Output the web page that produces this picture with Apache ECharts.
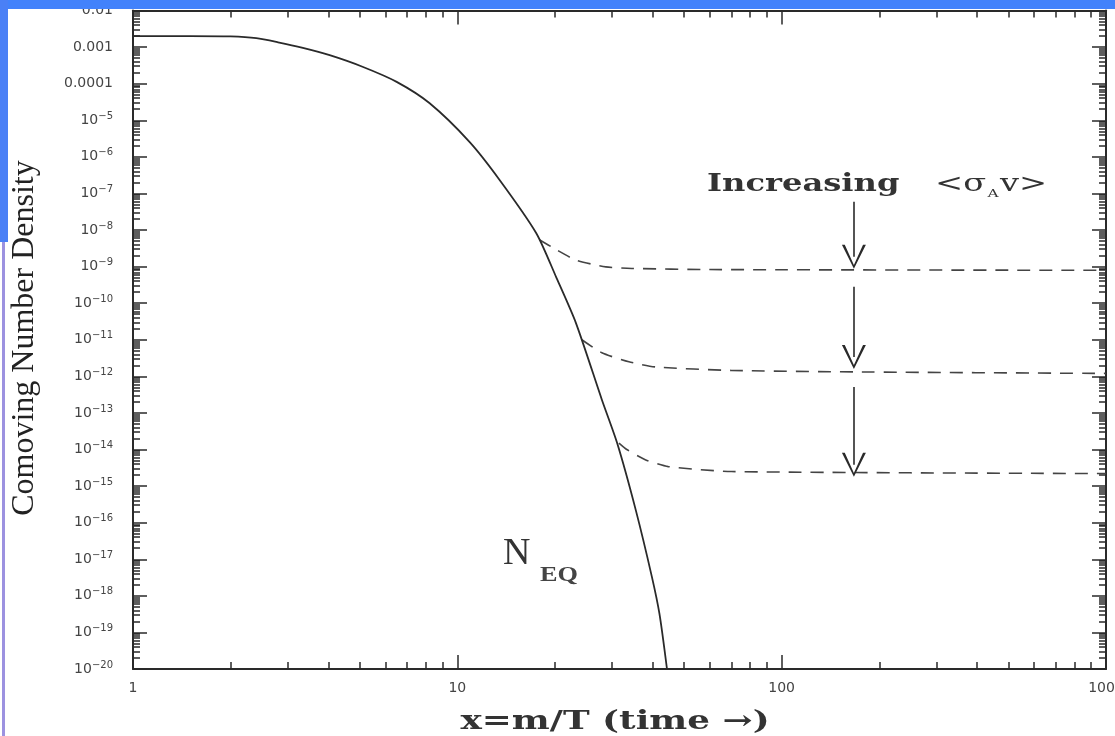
<!DOCTYPE html>
<html>
<head>
<meta charset="utf-8">
<script src="https://cdn.jsdelivr.net/npm/echarts@6/dist/echarts.min.js"></script>
<style>
html, body { margin: 0; padding: 0; background: #fff; }
#chart { width: 1115px; height: 736px; }
</style>
</head>
<body>
<div id="chart"></div>
<script>
// x = m/T, comoving number density
var xDecades = [1, 10, 100, 1000];
var yDecades = [1e-20, 1e-19, 1e-18, 1e-17, 1e-16, 1e-15, 1e-14, 1e-13, 1e-12, 1e-11,
	1e-10, 1e-9, 1e-8, 1e-7, 1e-6, 1e-5, 1e-4, 1e-3, 1e-2];
var minorFactors = [2, 3, 4, 5, 6, 7, 8, 9];

// equilibrium curve N_EQ
var eqX = [1, 1.5, 2.0, 2.4, 2.8, 3.34, 4.04, 5.1, 6.5, 8.2, 10.9, 13.5, 17.5, 20.2, 23.2, 27.9, 31.1, 35.5, 39.8, 42, 44.3];
var eqY = [2.0e-3, 2.0e-3, 1.95e-3, 1.75e-3, 1.35e-3, 9.5e-4, 6.0e-4, 2.9e-4, 1.12e-4, 2.95e-5, 2.57e-6, 2.34e-7,
	8.3e-9, 5.0e-10, 2.9e-11, 2.3e-13, 1.5e-14, 2.2e-16, 3.3e-18, 3.2e-19, 1e-20];

// freeze-out curves, increasing <sigma_A v>
var fo1X = [17.9, 20.2, 23.2, 28.7, 34.5, 60, 1000];
var fo1Y = [5.4e-9, 2.9e-9, 1.5e-9, 9.8e-10, 8.9e-10, 8.3e-10, 7.9e-10];
var fo2X = [24.2, 27.9, 33.8, 41, 70, 170, 1000];
var fo2Y = [1.0e-11, 4.4e-12, 2.5e-12, 1.8e-12, 1.45e-12, 1.32e-12, 1.2e-12];
var fo3X = [31.5, 33.3, 38.1, 44.7, 70, 1000];
var fo3Y = [1.5e-14, 1.0e-14, 5.2e-15, 3.4e-15, 2.5e-15, 2.2e-15];

// arrows
var arrowX = 167;
var arrowFrom = [5.9e-8, 2.8e-10, 5.1e-13];
var arrowTo = [1.86e-9, 3.4e-12, 3.8e-15];

var lg = Math.log10;
function pts(xs, ys) {
	return xs.map(function (x, i) { return [lg(x), lg(ys[i])]; });
}
function minorOf(decades) {
	var out = [];
	decades.slice(0, -1).forEach(function (d) {
		minorFactors.forEach(function (f) { out.push(lg(d * f)); });
	});
	return out;
}

var ink = "#2a2a2a";
var xMin = lg(xDecades[0]), xMax = lg(xDecades[xDecades.length - 1]);
var yMin = lg(yDecades[0]), yMax = lg(yDecades[yDecades.length - 1]);
var xMajorV = xDecades.map(lg), yMajorV = yDecades.map(lg);

function axis(pos, major, vals, minorVals, isX) {
	return {
		type: "value",
		position: pos,
		min: isX ? xMin : yMin,
		max: isX ? xMax : yMax,
		splitLine: { show: false },
		axisLine: { show: major, onZero: false, lineStyle: { color: ink, width: 2 } },
		axisTick: {
			inside: true,
			length: major ? 14 : 7,
			customValues: major ? vals : minorVals,
			lineStyle: { color: ink, width: 1.5 }
		},
		axisLabel: { show: false }
	};
}

var xAxes = [
	axis("bottom", true, xMajorV, null, true),
	axis("bottom", false, null, minorOf(xDecades), true),
	axis("top", true, xMajorV, null, true),
	axis("top", false, null, minorOf(xDecades), true)
];
xAxes[0].axisLabel = {
	show: true,
	customValues: xMajorV,
	margin: 12,
	color: "#444",
	fontFamily: "DejaVu Sans",
	fontSize: 14,
	formatter: function (v) { return String(Math.round(Math.pow(10, v))); }
};

var yAxes = [
	axis("left", true, yMajorV, null, false),
	axis("left", false, null, minorOf(yDecades), false),
	axis("right", true, yMajorV, null, false),
	axis("right", false, null, minorOf(yDecades), false)
];
yAxes[0].axisLabel = {
	show: true,
	customValues: yMajorV,
	margin: 20,
	color: "#444",
	fontFamily: "DejaVu Sans",
	fontSize: 14,
	formatter: function (v) {
		var e = Math.round(v);
		if (e >= -4) return "{b|" + Math.pow(10, e).toFixed(-e) + "}";
		return "{b|10}{s|\u2212" + (-e) + "}";
	},
	rich: {
		b: { fontSize: 14, lineHeight: 18, color: "#444", fontFamily: "DejaVu Sans" },
		s: { fontSize: 10, lineHeight: 10, color: "#444", fontFamily: "DejaVu Sans", verticalAlign: "top" }
	}
};

var dashStyle = { color: "#444", width: 1.6, type: [13, 9] };
function foSeries(xs, ys) {
	return {
		type: "line",
		data: pts(xs, ys),
		showSymbol: false,
		smooth: 0.2,
		lineStyle: dashStyle,
		silent: true,
		z: 3
	};
}

var headPath = "path://M50,0 L100,100 L88,100 L50,16 L12,100 L0,100 Z";

var option = {
	animation: false,
	backgroundColor: "#fff",
	grid: { left: 133, right: 9, top: 10.5, bottom: 67, containLabel: false, outerBoundsMode: "none" },
	xAxis: xAxes,
	yAxis: yAxes,
	series: [
		{
			type: "line",
			data: pts(eqX, eqY),
			showSymbol: false,
			smooth: 0.25,
			lineStyle: { color: ink, width: 1.8 },
			silent: true,
			z: 4
		},
		foSeries(fo1X, fo1Y),
		foSeries(fo2X, fo2Y),
		foSeries(fo3X, fo3Y),
		{
			type: "lines",
			coordinateSystem: "cartesian2d",
			silent: true,
			symbol: ["none", headPath],
			symbolSize: [11, 24],
			lineStyle: { color: ink, width: 1.6, opacity: 1 },
			data: arrowFrom.map(function (y0, i) {
				return { coords: [[lg(arrowX), lg(y0)], [lg(arrowX), lg(arrowTo[i])]] };
			}),
			z: 5
		}
	],
	graphic: [
		{
			type: "text", x: 707, y: 185, scaleX: 1.34,
			style: { text: "Increasing", font: "bold 24px 'DejaVu Serif'", fill: "#333", align: "left", verticalAlign: "middle" }
		},
		{
			type: "text", x: 935, y: 185, scaleX: 1.4,
			style: {
				text: "{n|<\u03c3}{s|A}{n|v>}",
				fill: "#333", align: "left", verticalAlign: "middle",
				rich: {
					n: { fontFamily: "DejaVu Serif", fontSize: 24, lineHeight: 30, fill: "#333" },
					s: { fontFamily: "DejaVu Serif", fontSize: 11, lineHeight: 11, fill: "#333", verticalAlign: "bottom", padding: [0, 1, 0, 1] }
				}
			}
		},
		{
			type: "text", x: 503, y: 554,
			style: { text: "N", font: "38px 'Liberation Serif'", fill: "#333", align: "left", verticalAlign: "middle" }
		},
		{
			type: "text", x: 540, y: 576, scaleX: 1.25,
			style: { text: "EQ", font: "bold 21px 'Liberation Serif'", fill: "#444", align: "left", verticalAlign: "middle" }
		},
		{
			type: "text", x: 615, y: 722, scaleX: 1.38,
			style: { text: "x=m/T (time \u2192)", font: "bold 26px 'DejaVu Serif'", fill: "#333", align: "center", verticalAlign: "middle" }
		},
		{
			type: "text", x: 25, y: 338, rotation: Math.PI / 2,
			style: { text: "Comoving Number Density", font: "32px 'Liberation Serif'", fill: "#222", align: "center", verticalAlign: "middle" }
		},
		// slide frame
		{ type: "rect", z: 100, shape: { x: 0, y: 0, width: 1115, height: 9 }, style: { fill: "#4282fb" } },
		{ type: "rect", z: 100, shape: { x: 0, y: 0, width: 8, height: 242 }, style: { fill: "#4a80f6" } },
		{ type: "rect", z: 100, shape: { x: 2, y: 242, width: 3, height: 494 }, style: { fill: "#9c92e0" } }
	]
};

var myChart = echarts.init(document.getElementById("chart"));
myChart.setOption(option);
</script>
</body>
</html>
